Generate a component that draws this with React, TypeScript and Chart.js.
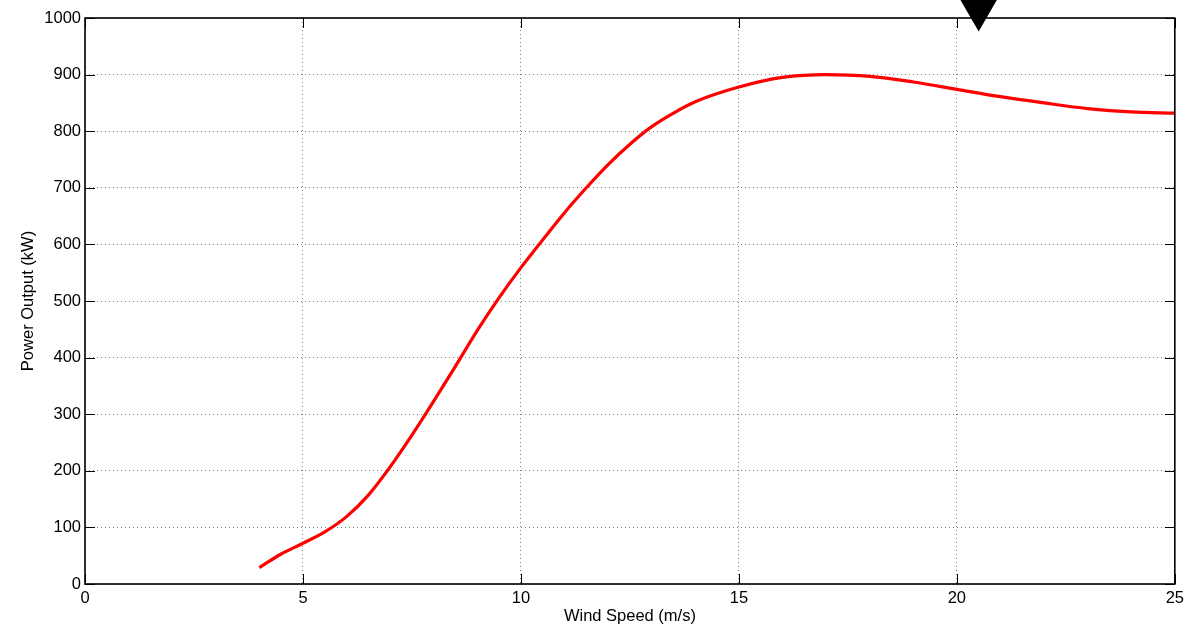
import React, { useEffect, useRef } from "react";
import { Chart, registerables } from "chart.js";

Chart.register(...registerables);

// Turbine power curve samples
const windSpeed = [
  4, 4.5, 5, 5.5, 6, 6.5, 7, 7.5, 8, 8.5, 9, 9.5, 10, 10.5, 11, 11.5, 12, 12.5, 13, 13.5,
  14, 15, 16, 17, 18, 19, 20, 21, 22, 23, 24, 25,
];
const powerOutput = [
  29, 53, 72, 92, 119, 157, 207, 263, 323, 385, 448, 506, 559, 608, 656, 700, 741, 777, 808, 832,
  852, 878, 895, 900, 897, 887, 874, 861, 850, 840, 834, 832,
];

// Pointer marker above the plot
const markerSpeed = [20.5];
const markerLevel = [1015];

const xTicks = [0, 5, 10, 15, 20, 25];
const yTicks = [0, 100, 200, 300, 400, 500, 600, 700, 800, 900, 1000];

const FONT = "'Liberation Sans', Arial, Helvetica, sans-serif";
const FONT_SIZE = 16.5;

// Box around the plot with inward tick marks on all four sides
const framePlugin = {
  id: "frame",
  afterDatasetsDraw(chart: any) {
    const { ctx, chartArea, scales } = chart;
    const { left, right, top, bottom } = chartArea;
    const len = 10;
    ctx.save();
    ctx.strokeStyle = "#000";
    ctx.lineWidth = 1;
    ctx.beginPath();
    for (const v of xTicks) {
      const x = Math.round(scales.x.getPixelForValue(v)) + 0.5;
      ctx.moveTo(x, bottom);
      ctx.lineTo(x, bottom - len);
      ctx.moveTo(x, top);
      ctx.lineTo(x, top + len);
    }
    for (const v of yTicks) {
      const y = Math.round(scales.y.getPixelForValue(v)) + 0.5;
      ctx.moveTo(left, y);
      ctx.lineTo(left + len, y);
      ctx.moveTo(right, y);
      ctx.lineTo(right - len, y);
    }
    ctx.stroke();
    ctx.lineWidth = 1.6;
    ctx.strokeRect(left, top, right - left, bottom - top);
    ctx.restore();
  },
};

export default function App() {
  const canvasRef = useRef<HTMLCanvasElement | null>(null);

  useEffect(() => {
    const canvas = canvasRef.current;
    if (!canvas) return;
    const chart = new Chart(canvas, {
      type: "line",
      data: {
        datasets: [
          {
            label: "Power",
            data: windSpeed.map((x, i) => ({ x, y: powerOutput[i] })),
            borderColor: "#ff0000",
            borderWidth: 3.2,
            pointRadius: 0,
            fill: false,
            cubicInterpolationMode: "monotone",
          },
          {
            type: "scatter",
            label: "Marker",
            data: markerSpeed.map((x, i) => ({ x, y: markerLevel[i] })),
            pointStyle: "triangle",
            rotation: 180,
            pointRadius: 22,
            pointBackgroundColor: "#000",
            pointBorderColor: "#000",
            pointBorderWidth: 0,
            clip: false,
          } as any,
        ],
      },
      options: {
        responsive: false,
        animation: false,
        devicePixelRatio: 1,
        layout: {
          autoPadding: false,
          padding: { top: 18, right: 11, left: 0, bottom: 0 },
        },
        plugins: {
          legend: { display: false },
          tooltip: { enabled: false },
        },
        scales: {
          x: {
            type: "linear",
            min: 0,
            max: 25,
            afterBuildTicks: (s: any) => {
              s.ticks = xTicks.map((value) => ({ value }));
            },
            afterFit: (s: any) => {
              s.height = 43;
            },
            grid: {
              color: "rgba(0,0,0,0.5)",
              lineWidth: 1,
              drawTicks: false,
            },
            border: { display: false, dash: [1, 3] },
            ticks: {
              color: "#000",
              padding: 5,
              maxRotation: 0,
              font: { family: FONT, size: FONT_SIZE },
              callback: (v: any) => String(v),
            },
            title: {
              display: true,
              text: "Wind Speed (m/s)",
              color: "#000",
              font: { family: FONT, size: FONT_SIZE },
              padding: { top: 0, bottom: 1 },
            },
          },
          y: {
            type: "linear",
            min: 0,
            max: 1000,
            afterBuildTicks: (s: any) => {
              s.ticks = yTicks.map((value) => ({ value }));
            },
            afterFit: (s: any) => {
              s.width = 85;
            },
            grid: {
              color: "rgba(0,0,0,0.5)",
              lineWidth: 1,
              drawTicks: false,
            },
            border: { display: false, dash: [1, 3] },
            ticks: {
              color: "#000",
              padding: 4,
              font: { family: FONT, size: FONT_SIZE },
              callback: (v: any) => String(v),
            },
            title: {
              display: true,
              text: "Power Output (kW)",
              color: "#000",
              font: { family: FONT, size: FONT_SIZE },
              padding: { top: 19, bottom: 0 },
            },
          },
        },
      },
      plugins: [framePlugin],
    });
    return () => chart.destroy();
  }, []);

  return (
    <div
      style={{
        position: "fixed",
        left: 0,
        top: 0,
        width: 1189,
        height: 627,
        background: "#fff",
      }}
    >
      <canvas ref={canvasRef} width={1189} height={627} />
    </div>
  );
}
